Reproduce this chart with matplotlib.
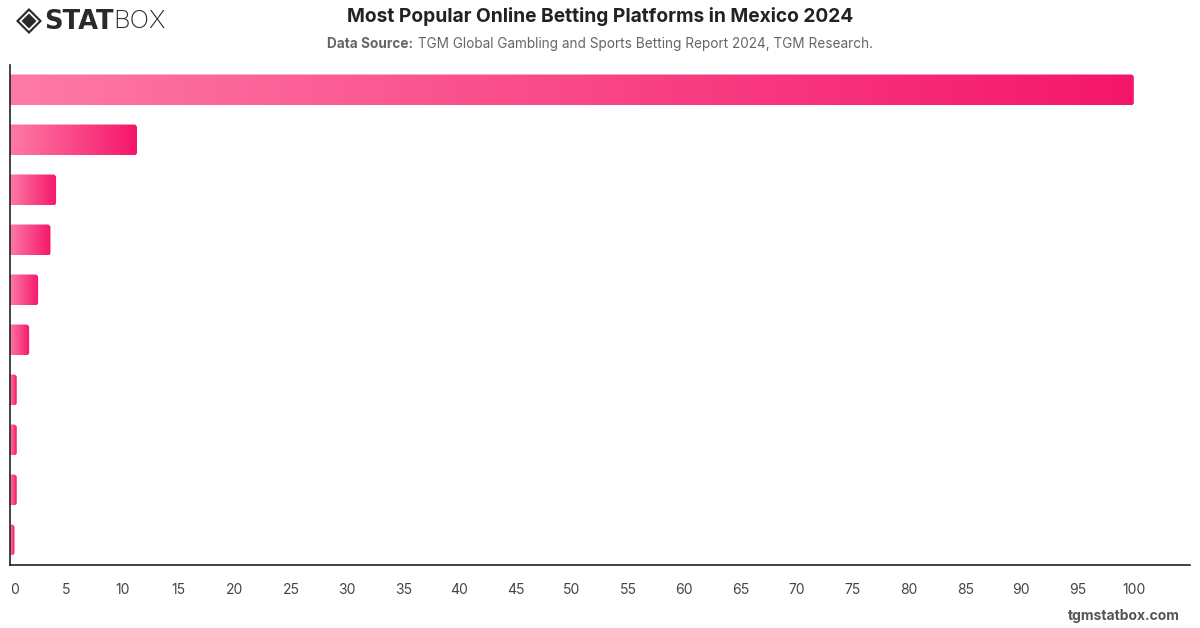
import numpy as np
import matplotlib
matplotlib.use("Agg")
import matplotlib.pyplot as plt
from matplotlib.patches import FancyBboxPatch, Polygon
from matplotlib.colors import LinearSegmentedColormap

# ---- data ----
platforms = ["Platform 1", "Platform 2", "Platform 3", "Platform 4", "Platform 5",
             "Platform 6", "Platform 7", "Platform 8", "Platform 9", "Platform 10"]
values = [100, 11.3, 4.1, 3.6, 2.5, 1.7, 0.6, 0.6, 0.6, 0.4]
xticks = list(range(0, 101, 5))

title = "Most Popular Online Betting Platforms in Mexico 2024"
source_bold = "Data Source:"
source_rest = " TGM Global Gambling and Sports Betting Report 2024, TGM Research."

plt.rcParams['font.family'] = ['Inter', 'DejaVu Sans']

W, H = 1200, 628
fig = plt.figure(figsize=(W / 100, H / 100), dpi=100)
fig.patch.set_facecolor("white")

ax_left, ax_right, ax_top, ax_bottom = 10, 1190, 65, 565
XMAX = 105
ax = fig.add_axes([ax_left / W, 1 - ax_bottom / H, (ax_right - ax_left) / W, (ax_bottom - ax_top) / H])
n = len(values)

cmap = LinearSegmentedColormap.from_list("pinkgrad", ["#fe7aa6", "#f5166a"])
grad = np.linspace(0, 1, 256).reshape(1, -1)

bar_h = 0.62
px_per_x = (ax_right - ax_left) / XMAX
px_per_y = 50.0
r_px = 3.0
r_x = r_px / px_per_x
asp = (r_px / px_per_y) / r_x

for i, v in enumerate(values):
    y0 = i - bar_h / 2
    patch = FancyBboxPatch((-1, y0), v + 1, bar_h,
                           boxstyle=f"round,pad=0,rounding_size={min(r_x, (v + 1) / 2)}",
                           mutation_aspect=asp, facecolor="none", edgecolor="none")
    ax.add_patch(patch)
    im = ax.imshow(grad, cmap=cmap, aspect="auto", extent=(0, v, i + bar_h / 2, y0),
                   interpolation="bilinear", zorder=2)
    im.set_clip_path(patch)

ax.set_xlim(0, XMAX)
ax.set_ylim(n - 0.5, -0.5)
ax.set_yticks([])
ax.set_xticks(xticks)
ax.set_xticklabels([str(t) for t in xticks])
ax.tick_params(axis="x", length=0, pad=13, labelsize=10, labelcolor="#444444")
first = ax.get_xticklabels()[0]
first.set_horizontalalignment("left")

for s in ["top", "right"]:
    ax.spines[s].set_visible(False)
for s in ["left", "bottom"]:
    ax.spines[s].set_color("#222222")
    ax.spines[s].set_linewidth(1.2)

# ---- titles ----
fig.text(600 / W, 1 - 17 / H, title, ha="center", va="center",
         fontsize=13.8, fontweight="bold", color="#222222")
t1 = fig.text(0.5, 1 - 44 / H, source_bold, ha="left", va="center",
              fontsize=9.8, fontweight="bold", color="#666666")
t2 = fig.text(0.5, 1 - 44 / H, source_rest, ha="left", va="center",
              fontsize=9.8, color="#666666")
fig.canvas.draw()
r = fig.canvas.get_renderer()
w1 = t1.get_window_extent(r).width
w2 = t2.get_window_extent(r).width
start = 600 - (w1 + w2) / 2
t1.set_x(start / W)
t2.set_x((start + w1) / W)

# footer
fig.text(1180 / W, 1 - 616 / H, "tgmstatbox.com", ha="right", va="center",
         fontsize=10, fontweight="bold", color="#555555")

# ---- logo ----
cx, cy = 29, 21
def diamond(cx, cy, r):
    return [((cx) / W, 1 - (cy - r) / H), ((cx + r) / W, 1 - cy / H),
            ((cx) / W, 1 - (cy + r) / H), ((cx - r) / W, 1 - cy / H)]
fig.patches.append(Polygon(diamond(cx, cy, 13), closed=True, transform=fig.transFigure,
                           facecolor="#2a2a2a", edgecolor="none"))
fig.patches.append(Polygon(diamond(cx, cy, 10), closed=True, transform=fig.transFigure,
                           facecolor="white", edgecolor="none"))
fig.patches.append(Polygon(diamond(cx, cy, 7.5), closed=True, transform=fig.transFigure,
                           facecolor="#2a2a2a", edgecolor="none"))
ts = fig.text(44 / W, 1 - 22 / H, "STAT", ha="left", va="center",
              fontsize=18.5, fontweight="bold", color="#2a2a2a", family="DejaVu Sans")
fig.canvas.draw()
ws = ts.get_window_extent(r).width
fig.text((44 + ws) / W, 1 - 22 / H, "BOX", ha="left", va="center",
         fontsize=18.5, fontweight="light", color="#2a2a2a")

fig.savefig("out.png", dpi=100, facecolor="white")
